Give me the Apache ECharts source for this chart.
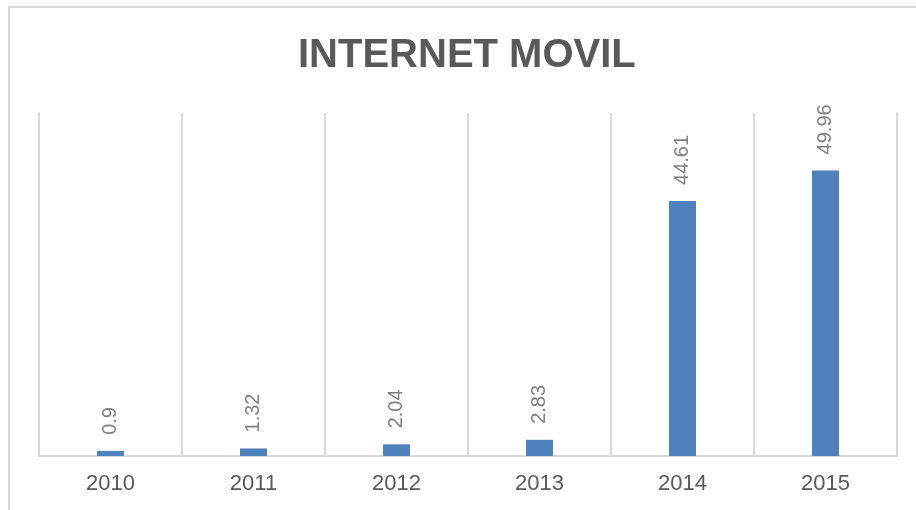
<!DOCTYPE html>
<html>
<head>
<meta charset="utf-8">
<script src="https://cdn.jsdelivr.net/npm/echarts@6/dist/echarts.min.js"></script>
<style>
  html, body { margin: 0; padding: 0; background: #fff; }
  #chart { width: 916px; height: 510px; }
</style>
</head>
<body>
<div id="chart"></div>
<script>
// data
const years = ['2010', '2011', '2012', '2013', '2014', '2015']
const values = [0.9, 1.32, 2.04, 2.83, 44.61, 49.96]
const titleText = 'INTERNET MOVIL'

const gridColor = '#d9d9d9'
const textColor = '#595959'

const chart = echarts.init(document.getElementById('chart'))

chart.setOption({
  backgroundColor: '#fff',
  animation: false,
  title: {
    text: titleText,
    left: 298,
    top: 36,
    padding: 0,
    textStyle: {
      fontFamily: 'Liberation Sans',
      fontWeight: 'bold',
      fontSize: 40,
      color: textColor
    }
  },
  graphic: [{
    // chart frame, only the top and left edges show in the crop
    type: 'rect',
    silent: true,
    shape: { x: 9, y: 7, width: 1000, height: 600 },
    style: { fill: 'none', stroke: gridColor, lineWidth: 2 }
  }],
  grid: {
    left: 39,
    right: 19,
    top: 113,
    bottom: 54
  },
  xAxis: {
    type: 'category',
    data: years,
    axisLine: {
      show: true,
      lineStyle: { color: gridColor, width: 2 }
    },
    axisTick: { show: false },
    axisLabel: {
      margin: 17,
      fontFamily: 'Liberation Sans',
      fontSize: 22,
      color: textColor
    },
    splitLine: {
      show: true,
      lineStyle: { color: gridColor, width: 2 }
    }
  },
  yAxis: {
    type: 'value',
    min: 0,
    max: 60,
    show: false
  },
  series: [{
    type: 'bar',
    data: values,
    barWidth: 27,
    itemStyle: { color: '#4f81bd' },
    label: {
      show: true,
      position: 'top',
      rotate: 90,
      align: 'left',
      verticalAlign: 'middle',
      distance: 16,
      fontFamily: 'Liberation Sans',
      fontSize: 20,
      color: '#7f7f7f'
    }
  }]
})
</script>
</body>
</html>
